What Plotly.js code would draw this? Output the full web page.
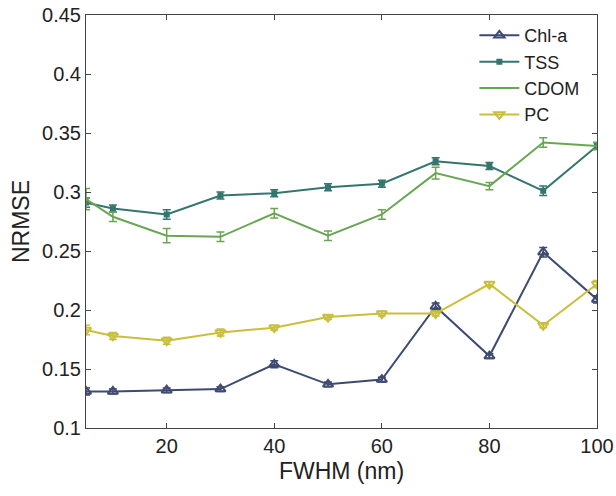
<!DOCTYPE html>
<html>
<head>
<meta charset="utf-8">
<script src="https://cdn.plot.ly/plotly-3.0.1.min.js"></script>
<style>html,body{margin:0;padding:0;background:#fff;}#chart{width:616px;height:496px;}</style>
</head>
<body>
<div id="chart"></div>
<script>
const fwhm = [5, 10, 20, 30, 40, 50, 60, 70, 80, 90, 100];
const chla = [0.131, 0.131, 0.132, 0.133, 0.154, 0.137, 0.141, 0.203, 0.161, 0.249, 0.209];
const chlaErr = [0.003, 0.002, 0.002, 0.002, 0.003, 0.002, 0.002, 0.003, 0.002, 0.004, 0.003];
const tss = [0.291, 0.286, 0.281, 0.297, 0.299, 0.304, 0.307, 0.326, 0.322, 0.301, 0.339];
const tssErr = [0.004, 0.003, 0.004, 0.003, 0.003, 0.003, 0.003, 0.003, 0.003, 0.004, 0.003];
const cdom = [0.294, 0.279, 0.263, 0.262, 0.282, 0.263, 0.281, 0.316, 0.305, 0.342, 0.339];
const cdomErr = [0.009, 0.004, 0.006, 0.004, 0.004, 0.004, 0.004, 0.005, 0.003, 0.004, 0.003];
const pc = [0.183, 0.178, 0.174, 0.181, 0.185, 0.194, 0.197, 0.197, 0.222, 0.187, 0.222];
const pcErr = [0.004, 0.003, 0.003, 0.003, 0.002, 0.002, 0.002, 0.002, 0.002, 0.002, 0.003];

function tr(name, y, err, color, symbol, size) {
  const t = {
    x: fwhm, y: y, name: name, type: 'scatter', mode: symbol ? 'lines+markers' : 'lines',
    line: {color: color, width: 2},
    error_y: {type: 'data', array: err, visible: true, color: color, thickness: 1.5, width: 4}
  };
  if (symbol) t.marker = {symbol: symbol, size: size, color: color, line: {color: color, width: 2}};
  return t;
}
const data = [
  tr('Chl-a', chla, chlaErr, '#3d4a72', 'triangle-up-open', 9),
  tr('TSS', tss, tssErr, '#34766e', 'square', 4),
  tr('CDOM', cdom, cdomErr, '#68a652', null, 0),
  tr('PC', pc, pcErr, '#c8bf3b', 'triangle-down-open', 9)
];
const FONT = 'Liberation Sans, Arial, sans-serif';
const axisCommon = {
  showline: true, linecolor: '#444', linewidth: 1, mirror: 'ticks',
  ticks: 'inside', ticklen: 5, tickcolor: '#444', showgrid: false, zeroline: false,
  tickfont: {family: FONT, size: 20, color: '#222'}
};
const layout = {
  width: 616, height: 496,
  margin: {l: 86, r: 19, t: 15, b: 68},
  paper_bgcolor: '#fff', plot_bgcolor: '#fff',
  showlegend: true,
  legend: {x: 0.76, y: 0.995, xanchor: 'left', yanchor: 'top', bgcolor: 'rgba(0,0,0,0)',
           font: {family: FONT, size: 18, color: '#222'},
           tracegroupgap: 0, itemwidth: 40},
  xaxis: Object.assign({}, axisCommon, {
    range: [5, 100], tickvals: [20, 40, 60, 80, 100],
    title: {text: 'FWHM (nm)', font: {family: FONT, size: 23, color: '#222'}, standoff: 6}
  }),
  yaxis: Object.assign({}, axisCommon, {
    range: [0.1, 0.45], tickvals: [0.1, 0.15, 0.2, 0.25, 0.3, 0.35, 0.4, 0.45],
    ticktext: ['0.1', '0.15', '0.2', '0.25', '0.3', '0.35', '0.4', '0.45'],
    title: {text: 'NRMSE', font: {family: FONT, size: 23, color: '#222'}, standoff: 6}
  })
};
Plotly.newPlot('chart', data, layout, {displayModeBar: false, staticPlot: true});
</script>
</body>
</html>
